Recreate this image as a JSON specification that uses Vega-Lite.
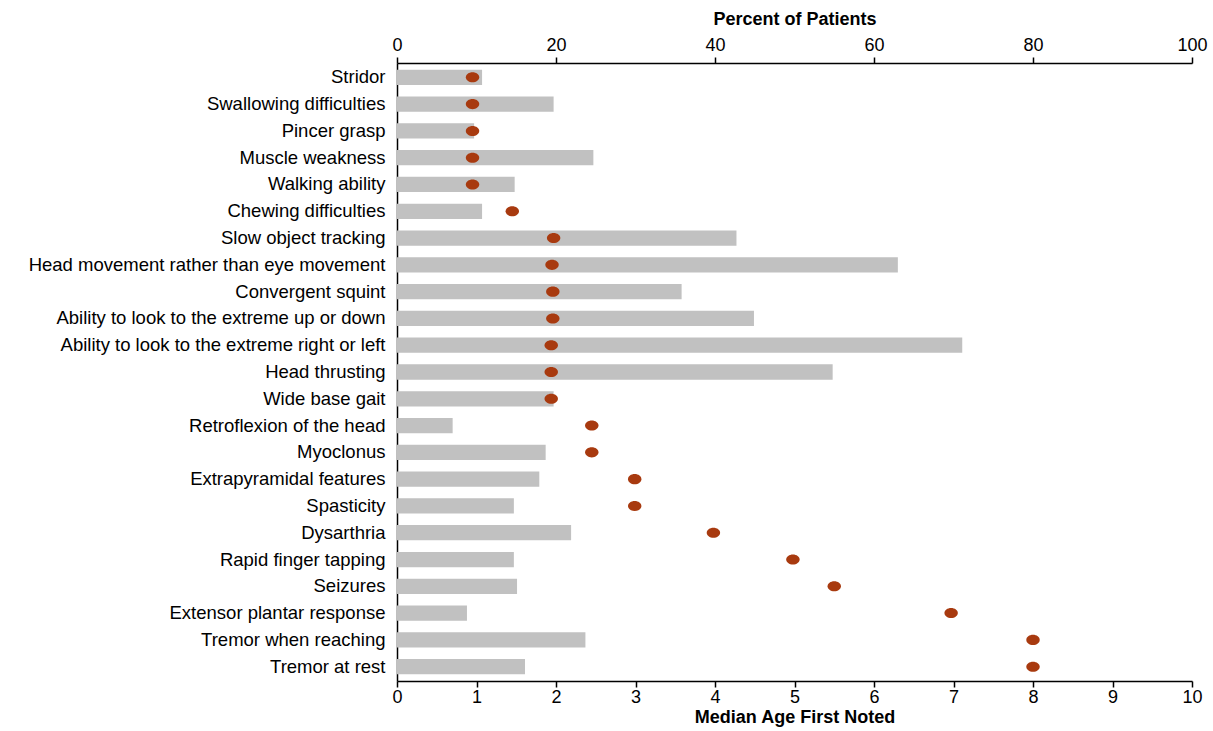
{
  "$schema": "https://vega.github.io/schema/vega-lite/v6.json",
  "autosize": {"type": "none"},
  "width": 795,
  "height": 618,
  "padding": {"left": 397, "top": 63, "right": 21, "bottom": 50},
  "background": "white",
  "config": {
    "view": {"stroke": null},
    "font": "Liberation Sans",
    "axis": {
      "domainColor": "#000",
      "domainWidth": 1.5,
      "tickColor": "#000",
      "tickWidth": 1.5,
      "labelColor": "#000",
      "titleColor": "#000",
      "labelFont": "Liberation Sans",
      "titleFont": "Liberation Sans",
      "labelFontSize": 18,
      "titleFontSize": 18,
      "titleFontWeight": "bold",
      "grid": false
    }
  },
  "data": {
    "values": [
      {"symptom": "Stridor", "percent": 10.7, "age": 0.95},
      {"symptom": "Swallowing difficulties", "percent": 19.7, "age": 0.95},
      {"symptom": "Pincer grasp", "percent": 9.7, "age": 0.95},
      {"symptom": "Muscle weakness", "percent": 24.7, "age": 0.95},
      {"symptom": "Walking ability ", "percent": 14.8, "age": 0.95},
      {"symptom": "Chewing difficulties", "percent": 10.7, "age": 1.45},
      {"symptom": "Slow object tracking", "percent": 42.7, "age": 1.97},
      {"symptom": "Head movement rather than eye movement", "percent": 63.0, "age": 1.95},
      {"symptom": "Convergent squint", "percent": 35.8, "age": 1.96},
      {"symptom": "Ability to look to the extreme up or down", "percent": 44.9, "age": 1.96},
      {"symptom": "Ability to look to the extreme right or left", "percent": 71.1, "age": 1.94},
      {"symptom": "Head thrusting", "percent": 54.8, "age": 1.94},
      {"symptom": "Wide base gait", "percent": 19.7, "age": 1.94},
      {"symptom": "Retroflexion of the head", "percent": 7.0, "age": 2.45},
      {"symptom": "Myoclonus", "percent": 18.7, "age": 2.45},
      {"symptom": "Extrapyramidal features", "percent": 17.9, "age": 2.99},
      {"symptom": "Spasticity", "percent": 14.7, "age": 2.99},
      {"symptom": "Dysarthria", "percent": 21.9, "age": 3.98},
      {"symptom": "Rapid finger tapping", "percent": 14.7, "age": 4.98},
      {"symptom": "Seizures", "percent": 15.1, "age": 5.5},
      {"symptom": "Extensor plantar response", "percent": 8.8, "age": 6.97},
      {"symptom": "Tremor when reaching", "percent": 23.7, "age": 8.0},
      {"symptom": "Tremor at rest", "percent": 16.1, "age": 8.0}
    ]
  },
  "encoding": {
    "y": {
      "field": "symptom",
      "type": "nominal",
      "sort": null,
      "scale": {"paddingInner": 0.43, "paddingOuter": 0.25},
      "axis": {"title": null, "ticks": false, "labelPadding": 12, "labelLimit": 400, "labelFontSize": 18.5}
    }
  },
  "layer": [
    {
      "mark": {"type": "bar", "color": "#c1c1c1"},
      "encoding": {
        "x": {
          "field": "percent",
          "type": "quantitative",
          "scale": {"domain": [0, 100], "nice": false},
          "axis": {"orient": "top", "title": "Percent of Patients", "values": [0, 20, 40, 60, 80, 100], "labelFlush": false, "tickSize": 6, "labelPadding": 3, "titlePadding": 8}
        }
      }
    },
    {
      "mark": {"type": "point", "filled": true, "opacity": 1, "color": "#a83a0f", "shape": "M-1.2,0A1.2,0.9 0 1,0 1.2,0A1.2,0.9 0 1,0 -1.2,0Z", "size": 125},
      "encoding": {
        "x": {
          "field": "age",
          "type": "quantitative",
          "scale": {"domain": [0, 10], "nice": false},
          "axis": {"orient": "bottom", "title": "Median Age First Noted", "values": [0, 1, 2, 3, 4, 5, 6, 7, 8, 9, 10], "labelFlush": false, "tickSize": 6, "labelPadding": 1, "titlePadding": 2}
        }
      }
    }
  ],
  "resolve": {"scale": {"x": "independent"}}
}
